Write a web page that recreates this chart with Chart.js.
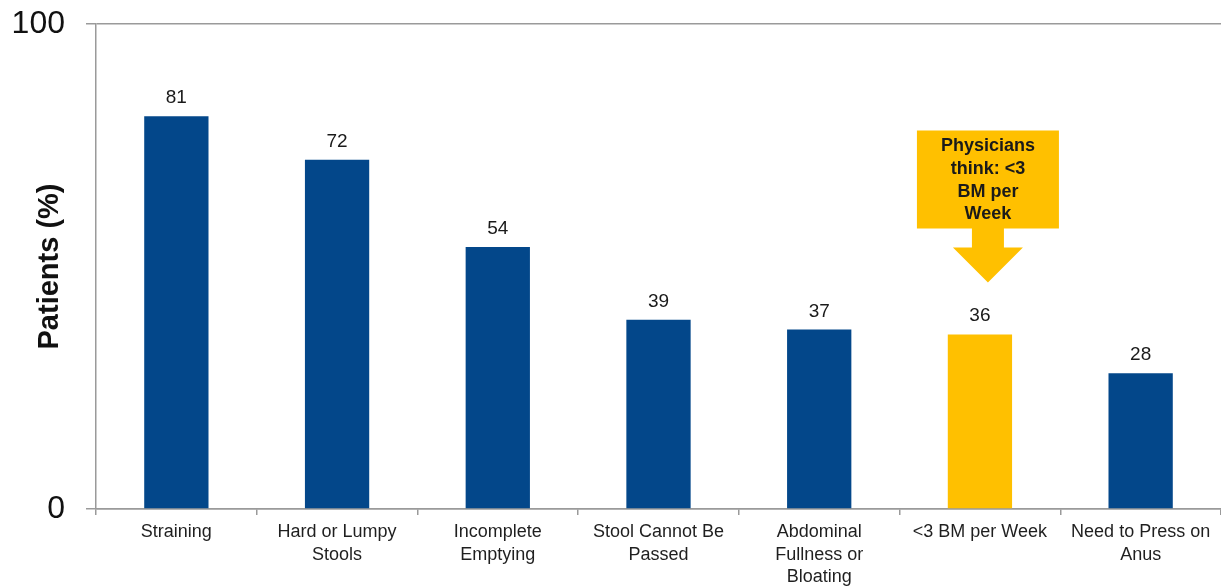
<!DOCTYPE html>
<html>
<head>
<meta charset="utf-8">
<script src="https://cdn.jsdelivr.net/npm/chart.js@4/dist/chart.umd.min.js"></script>
<style>
  html, body { margin: 0; padding: 0; background: #ffffff; }
  #wrap { position: relative; width: 1221px; height: 587px; }
</style>
</head>
<body>
<div id="wrap"><canvas id="c" width="1221" height="587"></canvas></div>
<script>
// ---- data ----
const categories = [
  ['Straining'],
  ['Hard or Lumpy', 'Stools'],
  ['Incomplete', 'Emptying'],
  ['Stool Cannot Be', 'Passed'],
  ['Abdominal', 'Fullness or', 'Bloating'],
  ['<3 BM per Week'],
  ['Need to Press on', 'Anus']
];
const values = [81, 72, 54, 39, 37, 36, 28];
const highlightIndex = 5;
const yTicks = [0, 100];
const axisTitle = 'Patients (%)';
const calloutLines = ['Physicians', 'think: <3', 'BM per', 'Week'];

const BLUE = '#03478A';
const GOLD = '#FFC000';
const GRID = '#9a9a9a';
const FONT = '"Liberation Sans", Arial, Helvetica, sans-serif';

const barColors = values.map((v, i) => i === highlightIndex ? GOLD : BLUE);

const overlay = {
  id: 'overlay',
  afterDatasetsDraw(chart) {
    const ctx = chart.ctx;
    const meta = chart.getDatasetMeta(0);
    ctx.save();
    // value labels
    ctx.fillStyle = '#1a1a1a';
    ctx.font = '19px ' + FONT;
    ctx.textAlign = 'center';
    ctx.textBaseline = 'alphabetic';
    meta.data.forEach((bar, i) => {
      ctx.fillText(String(values[i]), bar.x, bar.y - 13);
    });
    // callout arrow above highlighted bar
    const hb = meta.data[highlightIndex];
    const cx = hb.x + 8;
    const tip = hb.y - 52;
    const headTop = tip - 35;
    const boxBottom = headTop - 19;
    const boxTop = boxBottom - 98;
    const boxHalf = 71;
    const shaftHalf = 16;
    const headHalf = 35;
    ctx.fillStyle = GOLD;
    ctx.beginPath();
    ctx.moveTo(cx - boxHalf, boxTop);
    ctx.lineTo(cx + boxHalf, boxTop);
    ctx.lineTo(cx + boxHalf, boxBottom);
    ctx.lineTo(cx + shaftHalf, boxBottom);
    ctx.lineTo(cx + shaftHalf, headTop);
    ctx.lineTo(cx + headHalf, headTop);
    ctx.lineTo(cx, tip);
    ctx.lineTo(cx - headHalf, headTop);
    ctx.lineTo(cx - shaftHalf, headTop);
    ctx.lineTo(cx - shaftHalf, boxBottom);
    ctx.lineTo(cx - boxHalf, boxBottom);
    ctx.closePath();
    ctx.fill();
    ctx.fillStyle = '#1a1a1a';
    ctx.font = 'bold 18px ' + FONT;
    ctx.textBaseline = 'middle';
    const lh = 22.7;
    const midY = (boxTop + boxBottom) / 2 + 1;
    calloutLines.forEach((t, i) => {
      ctx.fillText(t, cx, midY + (i - (calloutLines.length - 1) / 2) * lh);
    });
    ctx.restore();
  }
};

new Chart(document.getElementById('c'), {
  type: 'bar',
  data: {
    labels: categories,
    datasets: [{
      data: values,
      backgroundColor: barColors,
      borderWidth: 0,
      barPercentage: 0.4,
      categoryPercentage: 1.0
    }]
  },
  options: {
    responsive: false,
    animation: false,
    devicePixelRatio: 1,
    layout: { padding: { top: 24, right: 0, bottom: 0, left: 0 } },
    plugins: { legend: { display: false }, tooltip: { enabled: false } },
    scales: {
      x: {
        offset: true,
        grid: {
          offset: true,
          drawOnChartArea: false,
          drawTicks: true,
          tickLength: 6,
          color: GRID,
          lineWidth: 1.5
        },
        border: { display: true, color: GRID, width: 1.5 },
        ticks: {
          color: '#1f1f1f',
          font: { family: FONT, size: 18, lineHeight: 1.25 },
          padding: 6,
          maxRotation: 0,
          autoSkip: false
        },
        afterFit(scale) {
          scale.height = 78;
          scale.paddingLeft = 0;
          scale.paddingRight = 0;
        }
      },
      y: {
        min: 0,
        max: 100,
        afterBuildTicks(scale) { scale.ticks = yTicks.map(v => ({ value: v })); },
        grid: {
          color: GRID,
          lineWidth: 1.5,
          tickLength: 10,
          drawTicks: true
        },
        border: { display: true, color: GRID, width: 1.5 },
        ticks: {
          color: '#111',
          font: { family: FONT, size: 32 },
          padding: 21
        },
        title: {
          display: true,
          text: axisTitle,
          color: '#111',
          font: { family: FONT, size: 29, weight: 'bold' },
          padding: { top: 33, bottom: 0 }
        },
        afterFit(scale) {
          scale.width = 96;
          scale.paddingTop = 0;
          scale.paddingBottom = 0;
        }
      }
    }
  },
  plugins: [overlay]
});
</script>
</body>
</html>
